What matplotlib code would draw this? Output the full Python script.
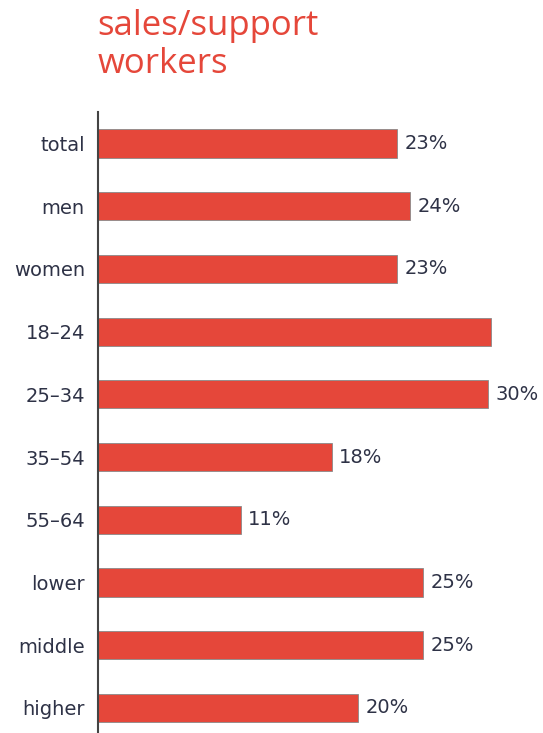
import matplotlib.pyplot as plt

categories = ['total', 'men', 'women', '18\u201324', '25\u201334', '35\u201354', '55\u201364',
              'lower', 'middle', 'higher']
values = [23, 24, 23, 30.2, 30, 18, 11, 25, 25, 20]
value_labels = ['23%', '24%', '23%', '', '30%', '18%', '11%', '25%', '25%', '20%']
title_lines = ['sales/support', 'workers']

red = '#E5473A'
text_col = '#2E3246'

plt.rcParams['font.family'] = ['DejaVu Sans']

fig = plt.figure(figsize=(5.43, 7.33), dpi=100)
ax = fig.add_axes([0.1805, 0.0, 0.8195, 0.847])

y = range(len(categories))
ax.barh(y, values, height=0.45, color=red, edgecolor='#8a8a8a', linewidth=0.6)
for i, (v, lab) in enumerate(zip(values, value_labels)):
    if lab:
        ax.text(v + 0.55, i, lab, va='center', ha='left', fontsize=14, color=text_col)

ax.set_ylim(9.4, -0.5)
ax.set_xlim(0, 34.2)
ax.set_yticks(list(y))
ax.set_yticklabels(categories, fontsize=14, color=text_col)
ax.tick_params(axis='y', length=0, pad=9.5)
ax.set_xticks([])
for s in ['top', 'right', 'bottom']:
    ax.spines[s].set_visible(False)
ax.spines['left'].set_color('#444444')
ax.spines['left'].set_linewidth(1.5)

# title, two lines placed by baseline
for line, base_px in zip(title_lines, [35, 73]):
    fig.text(0.18, 1 - base_px / 733, line, ha='left', va='baseline', fontsize=25,
             color=red, family=['Open Sans', 'DejaVu Sans'])

fig.savefig('out.png', dpi=100)
